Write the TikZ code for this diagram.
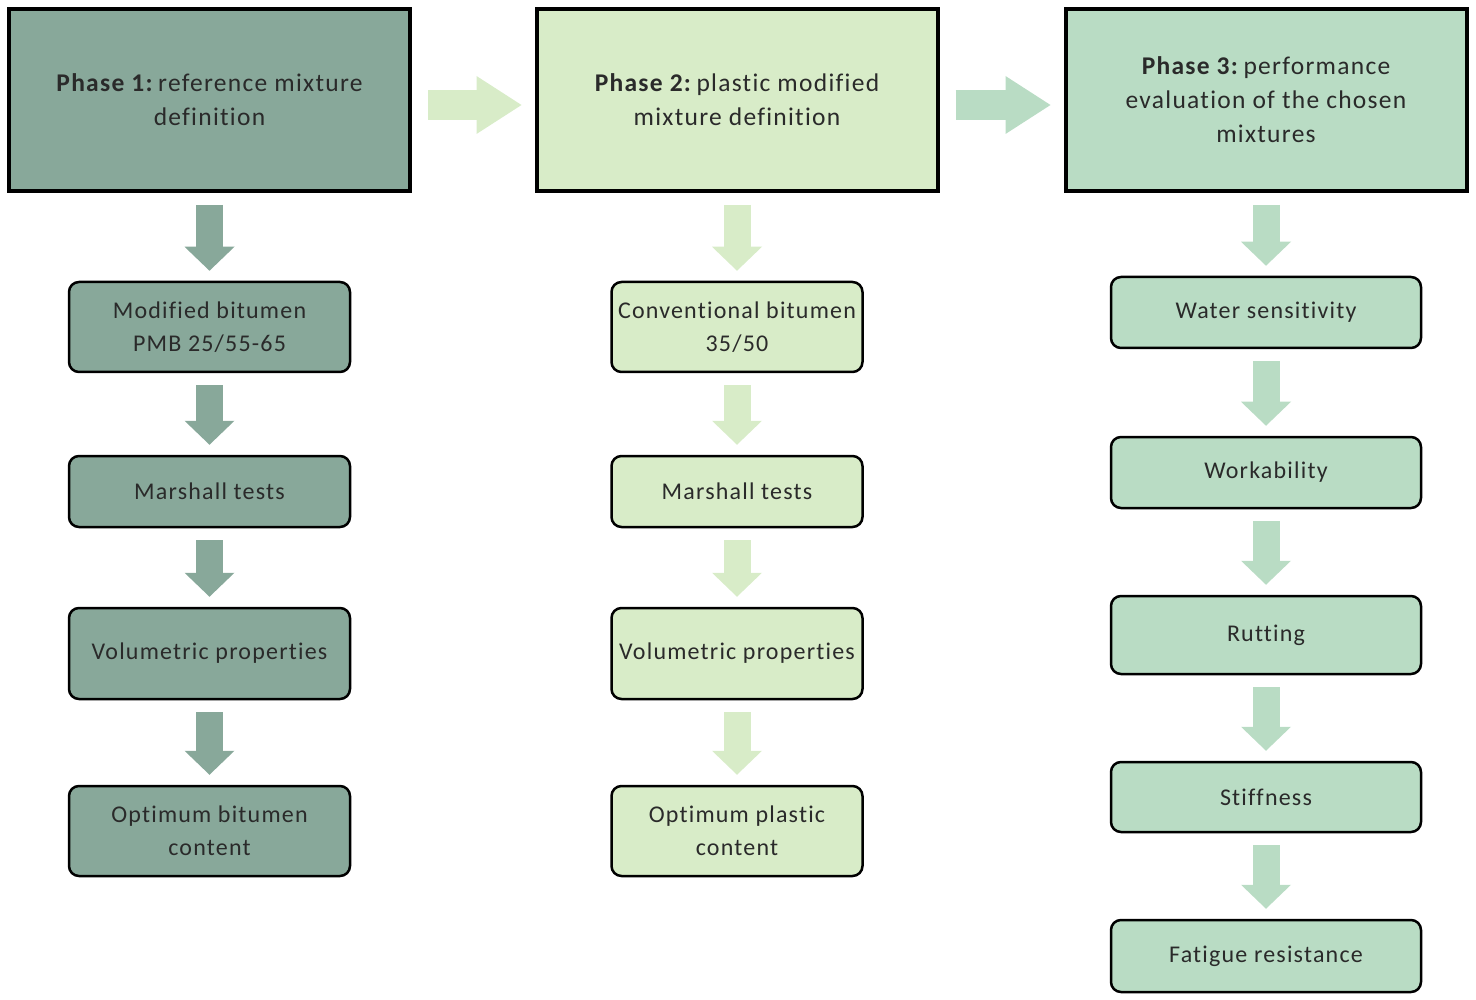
\documentclass[tikz,border=0pt]{standalone}
\usepackage{fontspec}
\setmainfont{Carlito}[LetterSpace=5,Ligatures=NoCommon]
\usetikzlibrary{arrows.meta}
\definecolor{phaseone}{HTML}{88A89A}
\definecolor{phasetwo}{HTML}{D8ECC8}
\definecolor{phasethree}{HTML}{B9DCC4}
\definecolor{txtgray}{HTML}{2A2A2A}

\begin{document}
\begin{tikzpicture}[x=1pt,y=-1pt,
    every node/.style={font=\fontsize{24}{33}\selectfont,text=txtgray,align=center,inner sep=0pt},
    phase/.style={draw=black,line width=4pt,fill=#1,minimum width=401pt,minimum height=182pt,
      font=\fontsize{25.5}{34}\selectfont},
    stepbox/.style={draw=black,line width=2.5pt,rounded corners=10pt,fill=#1},
    down/.style={draw=#1,line width=27pt,-{Triangle[width=50pt,length=24pt,line width=0pt]},
      shorten <=12pt,shorten >=10pt},
    across/.style={draw=#1,line width=30pt,-{Triangle[width=58pt,length=45pt,line width=0pt]},
      shorten <=16pt,shorten >=13pt}]
  \useasboundingbox (0,0) rectangle (1476,1000);
  % Phases
  \node[phase=phaseone] (p1) at (209.5,100) {\textbf{Phase 1:}\,reference mixture\\definition};
  \node[phase=phasetwo] (p2) at (737,100) {\textbf{Phase 2:}\,plastic modified\\mixture definition};
  \node[phase=phasethree] (p3) at (1266,100) {\textbf{Phase 3:}\,performance\\evaluation of the chosen\\mixtures};
  % Phase 1 steps
  \begin{scope}[every node/.append style={stepbox=phaseone,minimum width=281pt}]
    \node[minimum height=90pt] (a1) at (209.5,327) {Modified bitumen\\PMB 25/55-65};
    \node[minimum height=71pt] (a2) at (209.5,491.5) {Marshall tests};
    \node[minimum height=91pt] (a3) at (209.5,653.5) {Volumetric properties};
    \node[minimum height=90pt] (a4) at (209.5,831) {Optimum bitumen\\content};
  \end{scope}
  % Phase 2 steps
  \begin{scope}[every node/.append style={stepbox=phasetwo,minimum width=251pt}]
    \node[minimum height=90pt] (b1) at (737,327) {Conventional bitumen\\35/50};
    \node[minimum height=71pt] (b2) at (737,491.5) {Marshall tests};
    \node[minimum height=91pt] (b3) at (737,653.5) {Volumetric properties};
    \node[minimum height=90pt] (b4) at (737,831) {Optimum plastic\\content};
  \end{scope}
  % Phase 3 steps
  \begin{scope}[every node/.append style={stepbox=phasethree,minimum width=310pt}]
    \node[minimum height=71pt] (c1) at (1266,312.5) {Water sensitivity};
    \node[minimum height=71pt] (c2) at (1266,472.5) {Workability};
    \node[minimum height=78pt] (c3) at (1266,635) {Rutting};
    \node[minimum height=70pt] (c4) at (1266,797) {Stiffness};
    \node[minimum height=72pt] (c5) at (1266,956) {Fatigue resistance};
  \end{scope}
  % Arrows
  \draw[across=phasetwo] ([yshift=-5pt]p1.east) -- ([yshift=-5pt]p2.west);
  \draw[across=phasethree] ([yshift=-5pt]p2.east) -- ([yshift=-5pt]p3.west);
  \foreach \a/\b in {p1/a1,a1/a2,a2/a3,a3/a4}
    \draw[down=phaseone] (\a.south) -- (\b.north);
  \foreach \a/\b in {p2/b1,b1/b2,b2/b3,b3/b4}
    \draw[down=phasetwo] (\a.south) -- (\b.north);
  \foreach \a/\b in {p3/c1,c1/c2,c2/c3,c3/c4,c4/c5}
    \draw[down=phasethree] (\a.south) -- (\b.north);
\end{tikzpicture}
\end{document}
